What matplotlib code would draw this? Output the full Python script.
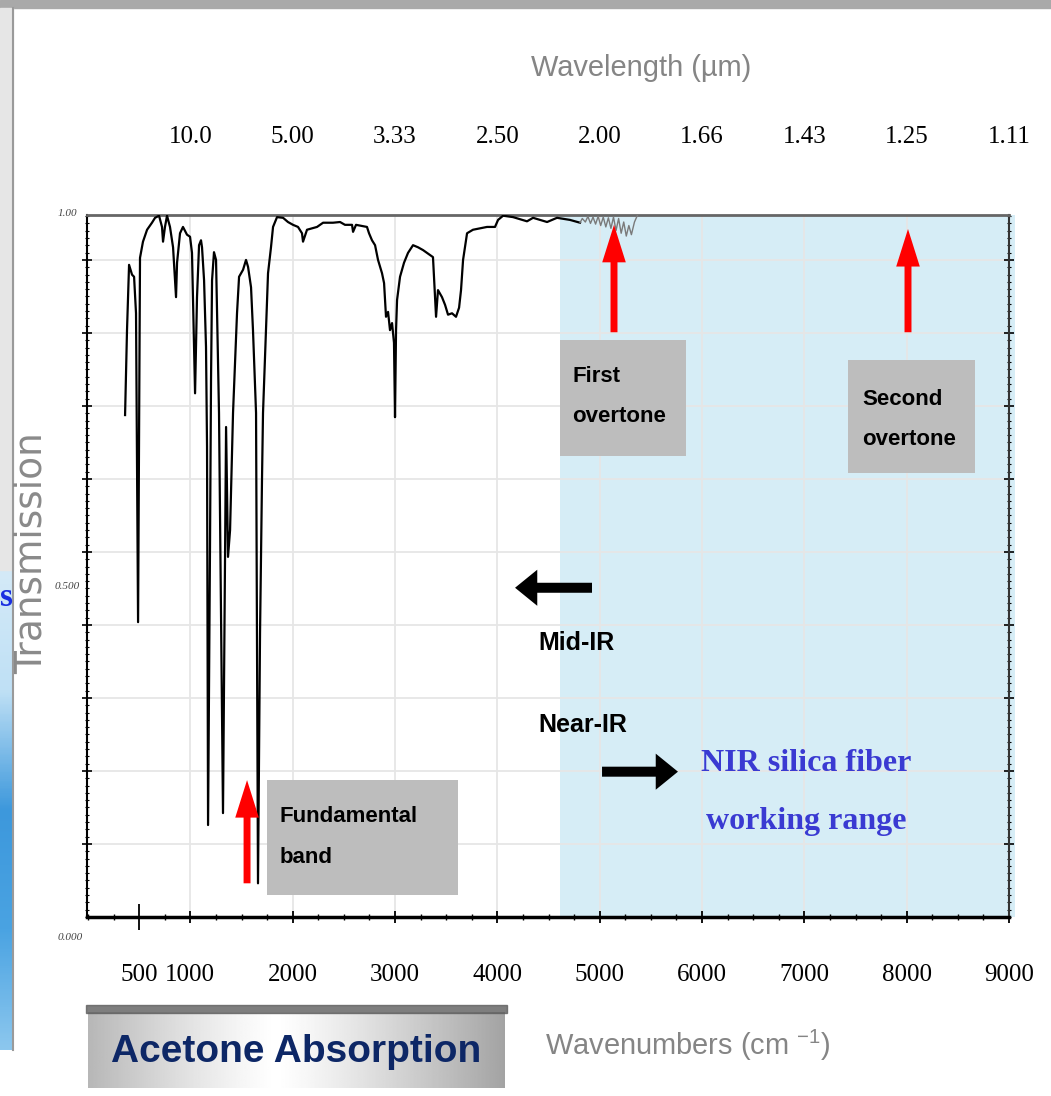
"""Acetone absorption spectrum with the NIR silica-fibre window marked."""

import matplotlib

matplotlib.use("Agg")
import matplotlib.pyplot as plt
import numpy as np
from matplotlib import font_manager
from matplotlib.colors import LinearSegmentedColormap
from matplotlib.lines import Line2D
from matplotlib.patches import Rectangle
from matplotlib.ticker import MultipleLocator

# spectrum: wavenumber (cm-1) and transmission (0..1)
wavenumber = [
    362, 381, 401, 430, 450, 469, 489, 508, 537, 577,
    596, 625, 655, 694, 723, 733, 752, 772, 801, 831,
    860, 870, 899, 928, 967, 997, 1016, 1036, 1046, 1065,
    1085, 1104, 1114, 1134, 1153, 1163, 1173, 1192, 1202, 1212,
    1231, 1251, 1261, 1280, 1319, 1349, 1368, 1388, 1417, 1456,
    1476, 1515, 1544, 1564, 1593, 1612, 1642, 1661, 1681, 1700,
    1710, 1739, 1759, 1788, 1808, 1847, 1906, 1954, 2003, 2052,
    2091, 2101, 2140, 2189, 2238, 2297, 2394, 2463, 2511, 2580,
    2590, 2619, 2726, 2746, 2775, 2805, 2834, 2873, 2893, 2912,
    2932, 2951, 2971, 2990, 3000, 3010, 3020, 3049, 3088, 3127,
    3176, 3225, 3274, 3342, 3371, 3381, 3401, 3420, 3459, 3489,
    3518, 3557, 3596, 3626, 3645, 3665, 3704, 3762, 3899, 3977,
    4007, 4056, 4153, 4290, 4349, 4486, 4583, 4710, 4808,
]
transmission = [
    0.715, 0.836, 0.929, 0.915, 0.912, 0.860, 0.420, 0.939, 0.962, 0.979,
    0.983, 0.989, 0.996, 0.999, 0.983, 0.962, 0.983, 0.999, 0.983, 0.954,
    0.883, 0.932, 0.974, 0.983, 0.972, 0.969, 0.946, 0.812, 0.746, 0.883,
    0.957, 0.964, 0.954, 0.907, 0.812, 0.670, 0.131, 0.527, 0.765, 0.907,
    0.947, 0.936, 0.860, 0.718, 0.148, 0.698, 0.513, 0.551, 0.718, 0.860,
    0.912, 0.922, 0.936, 0.926, 0.897, 0.836, 0.718, 0.048, 0.405, 0.622,
    0.718, 0.836, 0.917, 0.954, 0.983, 0.997, 0.996, 0.990, 0.986, 0.983,
    0.974, 0.962, 0.979, 0.981, 0.983, 0.989, 0.989, 0.990, 0.986, 0.986,
    0.976, 0.986, 0.983, 0.974, 0.964, 0.957, 0.936, 0.917, 0.903, 0.855,
    0.862, 0.836, 0.846, 0.818, 0.712, 0.836, 0.879, 0.912, 0.932, 0.946,
    0.957, 0.954, 0.950, 0.943, 0.940, 0.912, 0.855, 0.893, 0.883, 0.872,
    0.858, 0.860, 0.855, 0.868, 0.893, 0.936, 0.974, 0.979, 0.983, 0.983,
    0.993, 0.999, 0.997, 0.991, 0.996, 0.990, 0.996, 0.993, 0.989,
]

# the noisy grey stretch near the first overtone
noise_wavenumber = [
    4808, 4830, 4860, 4885, 4910, 4935, 4960, 4985, 5010, 5035, 5060, 5085,
    5110, 5135, 5160, 5185, 5210, 5235, 5260, 5285, 5310, 5340, 5370,
]
noise_transmission = [
    0.989, 0.995, 0.990, 0.998, 0.988, 0.997, 0.987, 0.998, 0.985, 0.997, 0.983, 0.996,
    0.981, 0.997, 0.978, 0.995, 0.974, 0.990, 0.970, 0.985, 0.972, 0.990, 1.000,
]

bottom_ticks = [500, 1000, 2000, 3000, 4000, 5000, 6000, 7000, 8000, 9000]
top_ticks = [1000, 2000, 3000, 4000, 5000, 6000, 7000, 8000, 9000]
top_tick_labels = ["10.0", "5.00", "3.33", "2.50", "2.00", "1.66", "1.43", "1.25", "1.11"]
y_label_values = [0.0, 0.5, 1.0]
y_label_text = ["0.000", "0.500", "1.00"]

# fonts: the slide text is narrow, use a narrow face when there is one
names = {f.name for f in font_manager.fontManager.ttflist}
if "Liberation Sans Narrow" in names:
    NARROW, SHRINK = "Liberation Sans Narrow", 1.0
else:
    NARROW, SHRINK = "Liberation Sans", 0.82
SERIF = "Liberation Serif"
plt.rcParams["mathtext.default"] = "regular"

W, H = 1051, 1096


def fxy(px, py):
    """Pixel position in the slide -> figure fraction."""
    return px / W, 1 - py / H


fig = plt.figure(figsize=(W / 100, H / 100), dpi=100)

# slide remnants: grey top border and the blue strip on the left
fig.patches.append(Rectangle((0, 1 - 8 / H), 1, 8 / H, transform=fig.transFigure,
                             color="#a9a9a9", zorder=0))
fig.patches.append(Rectangle((0, 1 - 570 / H), 13 / W, 562 / H, transform=fig.transFigure,
                             color="#e6e6e6", zorder=0))
strip = fig.add_axes([0, 1 - 1050 / H, 13 / W, 480 / H])
strip_cmap = LinearSegmentedColormap.from_list(
    "strip", ["#d4eaf8", "#bfe0f5", "#3d98dc", "#4aa3e2", "#8cc7ee"])
strip.imshow(np.linspace(0, 1, 200)[:, None], cmap=strip_cmap, aspect="auto",
             extent=[0, 1, 0, 1])
strip.axis("off")
fig.lines.append(Line2D([13 / W, 13 / W], [1 - 1050 / H, 1 - 8 / H],
                        transform=fig.transFigure, color="#9a9a9a", lw=1.5))
fig.text(*fxy(0, 598), "s", color="#1a2fe0", fontsize=24, fontweight="bold",
         family=SERIF, ha="left", va="center")

# main axes
ax = fig.add_axes([87 / W, 1 - 917 / H, (1009 - 87) / W, (917 - 215) / H])
ax.set_xlim(-10, 9000)
ax.set_ylim(0, 1.0)
ax.set_axisbelow(True)

ax.axvspan(4610, 9060, color="#d6edf6", zorder=0, clip_on=False, lw=0)

ax.plot(wavenumber, transmission, color="black", lw=1.6, zorder=3)
ax.plot(noise_wavenumber, noise_transmission, color="#7a7a7a", lw=1.0, zorder=3)

# x axis
ax.set_xticks(bottom_ticks, labels=[str(t) for t in bottom_ticks])
ax.xaxis.set_minor_locator(MultipleLocator(250))
ax.tick_params(axis="x", which="major", direction="inout", length=8, width=1.3,
               labelsize=18, pad=30)
ax.tick_params(axis="x", which="minor", direction="inout", length=4, width=1.0)
for lab in ax.get_xticklabels():
    lab.set_family(SERIF)
first_tick = ax.xaxis.get_major_ticks()[0]
first_tick.tick1line.set_markersize(19)

# y axis: grid every ~0.104 like the scanned chart, labels only at 0, 0.5, 1
grid_levels = np.arange(1, 10) * 0.104
ax.set_yticks(grid_levels, labels=[])
ax.yaxis.set_minor_locator(MultipleLocator(0.0104))
ax.tick_params(axis="y", which="major", direction="inout", length=7, width=1.2,
               right=True)
ax.tick_params(axis="y", which="minor", direction="inout", length=2.5, width=0.8,
               right=True)
for val, txt, dx, dy in zip(y_label_values, y_label_text, [-3, -5, -7], [-15, -15, 1]):
    ax.annotate(txt, xy=(0, val), xycoords=("axes fraction", "data"),
                xytext=(dx, dy), textcoords="offset points", ha="right", va="center",
                fontsize=8, fontstyle="italic", family=SERIF, color="#444444",
                annotation_clip=False)

ax.grid(True, which="major", color="#e6e6e6", lw=1.3)
first_tick.gridline.set_visible(False)

ax.spines["bottom"].set_linewidth(2.5)
ax.spines["left"].set_linewidth(1.5)
ax.spines["right"].set_linewidth(1.5)
ax.spines["right"].set_color("#333333")
ax.spines["top"].set_linewidth(2.0)
ax.spines["top"].set_color("#666666")

# top axis: wavelength in micrometres
ax2 = ax.twiny()
ax2.set_xlim(ax.get_xlim())
ax2.set_xticks(top_ticks, labels=top_tick_labels)
ax2.tick_params(axis="x", length=0, labelsize=18, pad=48)
for lab in ax2.get_xticklabels():
    lab.set_family(SERIF)
for sp in ax2.spines.values():
    sp.set_visible(False)

# grey label boxes
box_color = "#bdbdbd"
boxes = [
    ((4612, 0.657), 1232, 0.165, 4730, 0.741, "First\novertone"),
    ((7427, 0.632), 1241, 0.161, 7564, 0.709, "Second\novertone"),
    ((1749, 0.031), 1867, 0.164, 1876, 0.114, "Fundamental\nband"),
]
for xy, w, h, tx, ty, label in boxes:
    ax.add_patch(Rectangle(xy, w, h, color=box_color, zorder=2, lw=0))
    ax.text(tx, ty, label, ha="left", va="center", family=NARROW, fontweight="bold",
            fontsize=19.5 * SHRINK, linespacing=2.2, zorder=4)

# red arrows pointing at the bands
red_style = "simple,head_length=1.35,head_width=0.85,tail_width=0.25"
for x, y0, y1 in [(5140, 0.833, 0.986), (8013, 0.833, 0.980), (1554, 0.048, 0.195)]:
    ax.annotate("", xy=(x, y1), xytext=(x, y0),
                arrowprops=dict(arrowstyle=red_style, color="#ff0000", lw=0,
                                mutation_scale=20, shrinkA=0, shrinkB=0),
                zorder=5, annotation_clip=False)

# black arrows for mid-IR / near-IR
black_style = "simple,head_length=0.8,head_width=1.3,tail_width=0.36"
for x0, x1, y in [(4925, 4173, 0.469), (5023, 5765, 0.207)]:
    ax.annotate("", xy=(x1, y), xytext=(x0, y),
                arrowprops=dict(arrowstyle=black_style, color="black", lw=0,
                                mutation_scale=20, shrinkA=0, shrinkB=0),
                zorder=5)
ax.text(4397, 0.390, "Mid-IR", ha="left", va="center", family=NARROW,
        fontweight="bold", fontsize=22 * SHRINK, zorder=4)
ax.text(4397, 0.2735, "Near-IR", ha="left", va="center", family=NARROW,
        fontweight="bold", fontsize=22 * SHRINK, zorder=4)
ax.text(7016, 0.177, "NIR silica fiber\nworking range", ha="center", va="center",
        multialignment="center", family=SERIF, fontweight="bold", fontsize=23,
        color="#3a3ad2", linespacing=2.3, zorder=4)

# axis titles
fig.text(*fxy(641, 68), "Wavelength (µm)", ha="center", va="center",
         family=NARROW, fontsize=25.5 * SHRINK, color="#858585")
fig.text(*fxy(545, 1045), "Wavenumbers (cm $^{-1}$)", ha="left", va="center",
         family=NARROW, fontsize=25.5 * SHRINK, color="#858585")
fig.text(*fxy(32, 553), "Transmission", rotation=90, ha="center", va="center",
         family="DejaVu Sans", fontsize=27, color="#8a8a8a")

# "Acetone Absorption" caption box with a grey gradient and a shadow on top
fig.patches.append(Rectangle(fxy(86, 1013), 421 / W, 8 / H, transform=fig.transFigure,
                             color="#5e5e5e", alpha=0.8, zorder=1))
cap = fig.add_axes([88 / W, 1 - 1088 / H, 417 / W, 76 / H])
g = np.linspace(0, 1, 300)
shade = 1 - 0.36 * np.clip(np.abs(g - 0.45) / 0.55, 0, 1) ** 1.2
cap.imshow(shade[None, :], cmap="gray", vmin=0, vmax=1, aspect="auto", extent=[0, 1, 0, 1])
cap.axis("off")
cap.text(0.5, 0.48, "Acetone Absorption", ha="center", va="center",
         family="Liberation Sans", fontweight="bold", fontsize=28, color="#0d2766")

fig.savefig("out.png", dpi=100)
plt.close(fig)
